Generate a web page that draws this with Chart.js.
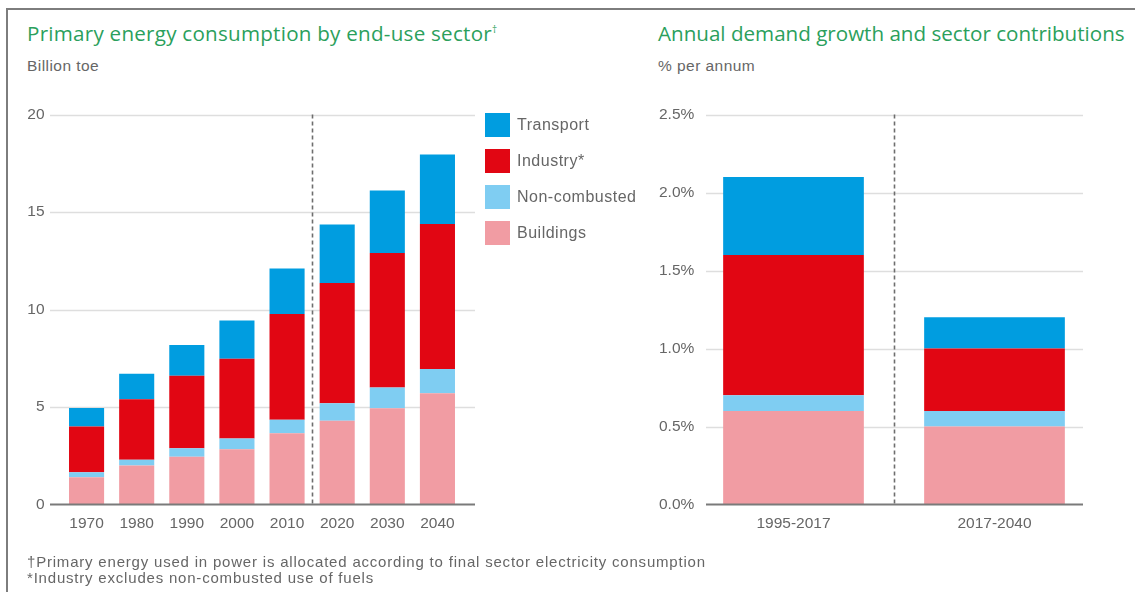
<!DOCTYPE html>
<html>
<head>
<meta charset="utf-8">
<script src="https://cdn.jsdelivr.net/npm/chart.js@4.4.1/dist/chart.umd.min.js"></script>
<style>
    body { margin: 0; width: 1135px; height: 592px; position: relative; overflow: hidden; background: #fff;
           font-family: "Liberation Sans", Arial, sans-serif; color: #666; }
    .frame { position: absolute; left: 6px; top: 8px; right: -4px; bottom: -4px;
             border-left: 2px solid #7d7d7d; border-top: 2px solid #7d7d7d; }
    .title { position: absolute; font-family: "Open Sans", sans-serif; font-size: 20.6px; line-height: 20px;
             color: #2b9f5c; white-space: nowrap; }
    .title sup { font-size: 10px; vertical-align: 8px; line-height: 0; }
    .unit { position: absolute; font-size: 15.5px; line-height: 16px; letter-spacing: 0.45px; color: #666; white-space: nowrap; }
    .note { position: absolute; left: 27px; font-size: 15px; line-height: 16px; letter-spacing: 0.8px; color: #666; white-space: nowrap; }
    canvas { position: absolute; top: 0; }
    #legend { position: absolute; left: 485px; top: 113px; }
    .item { height: 36px; display: flex; align-items: flex-start; }
    .swatch { width: 25px; height: 24px; margin-right: 7px; }
    .item span { font-size: 16px; line-height: 24px; letter-spacing: 0.5px; color: #666; }
</style>
</head>
<body>
<div class="frame"></div>
<div class="title" style="left:27px;top:23px;letter-spacing:0.25px">Primary energy consumption by end-use sector<sup>†</sup></div>
<div class="unit" style="left:27px;top:58px">Billion toe</div>
<div class="title" style="left:658px;top:23px">Annual demand growth and sector contributions</div>
<div class="unit" style="left:658px;top:58px">% per annum</div>
<canvas id="volumeChart" width="480" height="592" style="left:0"></canvas>
<canvas id="growthChart" width="515" height="592" style="left:620px"></canvas>
<div id="legend"></div>
<div class="note" style="top:554px">†Primary energy used in power is allocated according to final sector electricity consumption</div>
<div class="note" style="top:570px">*Industry excludes non-combusted use of fuels</div>

<script>
// Primary energy by end-use sector, billion toe (stacked bottom to top)
const years = ['1970', '1980', '1990', '2000', '2010', '2020', '2030', '2040'];
const buildings = [1.4, 2.0, 2.45, 2.83, 3.65, 4.29, 4.94, 5.7];
const nonCombusted = [0.25, 0.3, 0.43, 0.56, 0.69, 0.9, 1.06, 1.25];
const industry = [2.35, 3.1, 3.72, 4.08, 5.43, 6.17, 6.9, 7.44];
const transport = [0.95, 1.3, 1.58, 1.96, 2.33, 3.0, 3.2, 3.56];
const volumeMax = 20;
const volumeStep = 5;

// Annual demand growth, % per annum, split by sector contribution
const periods = ['1995-2017', '2017-2040'];
const growthBuildings = [0.6, 0.5];
const growthNonCombusted = [0.1, 0.1];
const growthIndustry = [0.9, 0.4];
const growthTransport = [0.5, 0.2];
const growthMax = 2.5;
const growthStep = 0.5;

const sectorNames = ['Buildings', 'Non-combusted', 'Industry*', 'Transport'];
const sectorColors = ['#f19ca3', '#7fcdf2', '#e10613', '#009de0'];

const tickFont = { family: '"Liberation Sans", Arial, sans-serif', size: 15.5 };

// light gridlines behind the bars, dark zero line and dashed history/outlook split on top
const gridPlugin = {
    id: 'customGrid',
    beforeDatasetsDraw(chart, args, opts) {
        const { ctx, chartArea, scales: { y } } = chart;
        ctx.save();
        ctx.strokeStyle = '#dedede';
        ctx.lineWidth = 1.5;
        y.ticks.forEach(t => {
            if (t.value === 0) return;
            const py = Math.round(y.getPixelForValue(t.value)) + 0.5;
            ctx.beginPath();
            ctx.moveTo(chartArea.left + opts.extendLeft, py);
            ctx.lineTo(chartArea.right + opts.extendRight, py);
            ctx.stroke();
        });
        ctx.restore();
    },
    afterDatasetsDraw(chart, args, opts) {
        const { ctx, chartArea, scales: { x, y } } = chart;
        const y0 = y.getPixelForValue(0);
        ctx.save();
        ctx.strokeStyle = '#6e6e6e';
        ctx.lineWidth = 1.6;
        ctx.setLineDash([4, 3]);
        const sx = Math.round((x.getPixelForValue(opts.splitAfter) + x.getPixelForValue(opts.splitAfter + 1)) / 2) + 0.5;
        ctx.beginPath();
        ctx.moveTo(sx, y.getPixelForValue(y.max));
        ctx.lineTo(sx, y0);
        ctx.stroke();
        ctx.setLineDash([]);
        ctx.strokeStyle = '#7a7a7a';
        ctx.lineWidth = 2;
        ctx.beginPath();
        ctx.moveTo(chartArea.left + opts.extendLeft, y0);
        ctx.lineTo(chartArea.right + opts.extendRight, y0);
        ctx.stroke();
        ctx.restore();
    }
};

function stackedDatasets(series) {
    return series.map((data, i) => ({
        label: sectorNames[i],
        data: data,
        backgroundColor: sectorColors[i],
        borderWidth: 0,
        barPercentage: 0.7,
        categoryPercentage: 1
    }));
}

function buildChart(id, labels, series, yMax, yStep, fmt, box) {
    return new Chart(document.getElementById(id), {
        type: 'bar',
        data: { labels: labels, datasets: stackedDatasets(series) },
        options: {
            responsive: false,
            animation: false,
            layout: { padding: { left: 0, top: 114.5, right: box.right, bottom: 57.5 } },
            plugins: {
                legend: { display: false },
                tooltip: { enabled: false },
                customGrid: { extendLeft: box.extendLeft, extendRight: box.extendRight, splitAfter: box.splitAfter }
            },
            scales: {
                x: {
                    stacked: true,
                    grid: { display: false },
                    border: { display: false },
                    ticks: { color: '#666', font: tickFont, padding: 2, maxRotation: 0 },
                    afterFit: s => { s.height = 30; }
                },
                y: {
                    stacked: true,
                    min: 0,
                    max: yMax,
                    grid: { display: false },
                    border: { display: false },
                    ticks: {
                        stepSize: yStep, color: '#666', font: tickFont, callback: fmt,
                        padding: box.tickPad, mirror: box.mirror
                    },
                    afterFit: s => { s.width = box.axisWidth; }
                }
            }
        },
        plugins: [gridPlugin]
    });
}

buildChart('volumeChart', years, [buildings, nonCombusted, industry, transport], volumeMax, volumeStep,
    v => String(v),
    { right: 17.5, axisWidth: 61.5, tickPad: 9, mirror: false, extendLeft: -11.5, extendRight: 12.5, splitAfter: 4 });

// growth labels sit over the slot area, so they are mirrored (left aligned, unclipped)
buildChart('growthChart', periods, [growthBuildings, growthNonCombusted, growthIndustry, growthTransport], growthMax, growthStep,
    v => v.toFixed(1) + '%',
    { right: 40, axisWidth: 73, tickPad: -34, mirror: true, extendLeft: 13, extendRight: -12, splitAfter: 0 });

// legend lists sectors top-down in stacking order reversed
const legend = document.getElementById('legend');
sectorNames.slice().reverse().forEach((name, i) => {
    const color = sectorColors[sectorNames.length - 1 - i];
    const row = document.createElement('div');
    row.className = 'item';
    row.innerHTML = `<div class="swatch" style="background:${color}"></div><span>${name}</span>`;
    legend.appendChild(row);
});
</script>
</body>
</html>
